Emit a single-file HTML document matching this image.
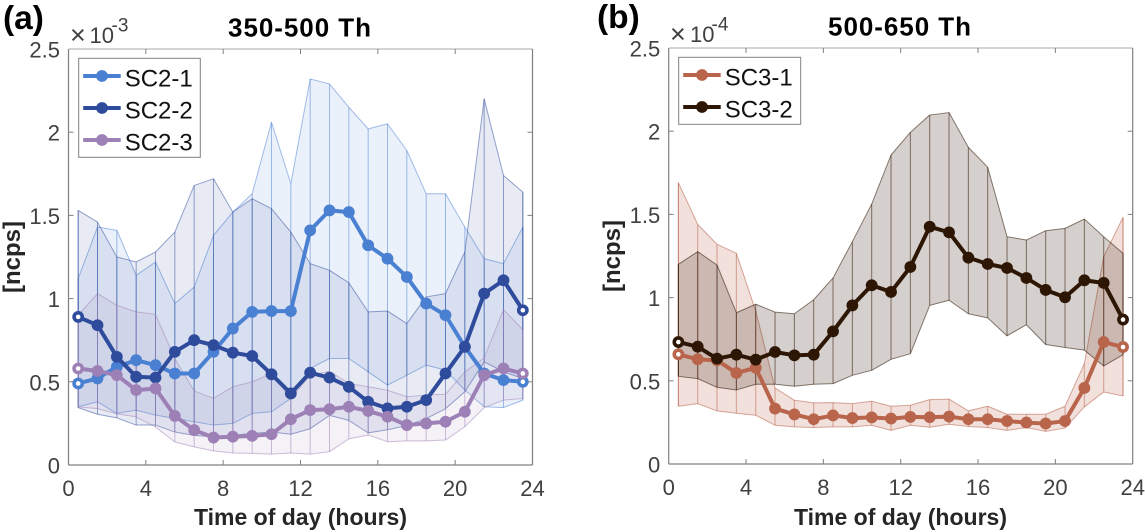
<!DOCTYPE html>
<html lang="en">
<head>
<meta charset="utf-8">
<title>Diurnal profiles</title>
<style>
html,body{margin:0;padding:0;background:#fff;width:1145px;height:532px;overflow:hidden}
svg{display:block;font-family:"Liberation Sans",Arial,sans-serif;filter:blur(0.35px)}
.tick{font-size:22px;fill:#404040}
.title{font-size:26px;font-weight:bold;fill:#000;letter-spacing:.95px}
.xt{font-size:23px;font-weight:bold;fill:#262626}
.yt{font-size:24px;font-weight:bold;fill:#262626}
.pl{font-size:33.5px;font-weight:bold;fill:#000}
.lg{font-size:24px;fill:#111}
.ex{fill:#404040}
</style>
</head>
<body>
<svg id="chart" xmlns="http://www.w3.org/2000/svg" width="1145" height="532" viewBox="0 0 1145 532">
  <text class="pl" x="3" y="29">(a)</text>
  <text class="pl" x="597" y="28">(b)</text>
  <text class="title" x="300" y="36.5" text-anchor="middle">350-500 Th</text>
  <text class="title" x="900" y="35.5" text-anchor="middle">500-650 Th</text>
  <text class="xt" x="300.5" y="525" text-anchor="middle">Time of day (hours)</text>
  <text class="xt" x="900.5" y="525" text-anchor="middle">Time of day (hours)</text>
  <text class="yt" transform="translate(20,257) rotate(-90)" text-anchor="middle">[ncps]</text>
  <text class="yt" transform="translate(620,256) rotate(-90)" text-anchor="middle">[ncps]</text>
  <g>
    <text class="ex" x="70" y="44" font-size="27">×</text>
    <text class="ex" x="89.5" y="43" font-size="22">10</text>
    <text class="ex" x="111.5" y="31.5" font-size="19">-3</text>
  </g>
  <g>
    <text class="ex" x="670" y="43" font-size="27">×</text>
    <text class="ex" x="690" y="42" font-size="22">10</text>
    <text class="ex" x="711.5" y="30.5" font-size="19">-4</text>
  </g>
  <g id="panel-a"></g>
  <g id="panel-b"></g>
</svg>
<script>
// x categories and tick labels
const hours = [0.5,1.5,2.5,3.5,4.5,5.5,6.5,7.5,8.5,9.5,10.5,11.5,12.5,13.5,14.5,15.5,16.5,17.5,18.5,19.5,20.5,21.5,22.5,23.5];
const xTicks = [0,4,8,12,16,20,24];
const yTicks = [0,0.5,1,1.5,2,2.5];

// Panel (a), units of 1e-3 ncps
const sc21Mean = [0.49,0.52,0.59,0.63,0.60,0.55,0.55,0.68,0.82,0.92,0.925,0.925,1.41,1.53,1.52,1.32,1.24,1.13,0.97,0.90,0.71,0.55,0.51,0.50];
const sc21Upper = [1.12,1.43,1.41,1.14,1.22,0.97,1.07,1.38,1.52,1.63,2.06,1.69,2.32,2.29,2.15,2.02,2.05,1.89,1.63,1.63,1.43,1.24,1.21,1.43];
const sc21Lower = [0.35,0.38,0.31,0.33,0.30,0.28,0.26,0.24,0.25,0.31,0.32,0.40,0.58,0.64,0.64,0.56,0.48,0.54,0.60,0.57,0.45,0.35,0.345,0.39];
const sc22Mean = [0.89,0.84,0.65,0.53,0.525,0.68,0.75,0.72,0.675,0.655,0.545,0.43,0.555,0.525,0.47,0.38,0.34,0.35,0.39,0.55,0.71,1.03,1.11,0.93];
const sc22Upper = [1.53,1.46,1.25,1.22,1.28,1.40,1.68,1.72,1.52,1.60,1.54,1.40,1.21,1.17,1.095,0.92,0.925,0.85,1.01,1.03,1.28,2.20,1.74,1.64];
const sc22Lower = [0.345,0.305,0.283,0.24,0.24,0.198,0.178,0.168,0.178,0.19,0.198,0.185,0.218,0.298,0.268,0.193,0.212,0.237,0.279,0.338,0.44,0.62,0.56,0.52];
const sc23Mean = [0.58,0.565,0.54,0.45,0.46,0.295,0.21,0.165,0.17,0.175,0.185,0.275,0.33,0.335,0.35,0.325,0.29,0.24,0.25,0.26,0.32,0.54,0.58,0.55];
const sc23Upper = [0.90,1.03,0.96,0.92,0.905,0.64,0.445,0.40,0.47,0.50,0.55,0.40,0.54,0.563,0.49,0.47,0.449,0.41,0.42,0.425,0.56,0.643,0.934,0.813];
const sc23Lower = [0.349,0.339,0.308,0.289,0.228,0.139,0.109,0.085,0.072,0.07,0.065,0.072,0.065,0.08,0.157,0.18,0.14,0.145,0.145,0.15,0.23,0.345,0.39,0.40];

// Panel (b), units of 1e-4 ncps
const sc31Mean = [0.659,0.629,0.623,0.547,0.578,0.333,0.298,0.269,0.292,0.276,0.28,0.273,0.283,0.281,0.285,0.269,0.269,0.258,0.249,0.243,0.258,0.457,0.733,0.703];
const sc31Upper = [1.69,1.44,1.32,1.266,0.92,0.457,0.383,0.367,0.369,0.363,0.377,0.347,0.353,0.387,0.39,0.319,0.347,0.299,0.299,0.299,0.347,0.603,1.246,1.482];
const sc31Lower = [0.347,0.363,0.319,0.305,0.293,0.233,0.223,0.219,0.223,0.223,0.233,0.202,0.233,0.221,0.239,0.225,0.219,0.202,0.219,0.196,0.216,0.343,0.433,0.409];
const sc32Mean = [0.733,0.705,0.633,0.657,0.627,0.673,0.653,0.657,0.797,0.953,1.074,1.034,1.184,1.426,1.392,1.24,1.202,1.178,1.118,1.046,1.002,1.104,1.088,0.868];
const sc32Upper = [1.20,1.276,1.196,0.909,0.96,0.913,0.903,0.987,1.118,1.336,1.562,1.857,1.993,2.097,2.112,1.903,1.783,1.366,1.346,1.402,1.416,1.472,1.366,1.266];
const sc32Lower = [0.527,0.513,0.461,0.445,0.479,0.479,0.467,0.479,0.483,0.533,0.563,0.629,0.663,0.953,0.984,0.903,0.878,0.77,0.837,0.718,0.70,0.684,0.589,0.657];

const SVGNS = 'http://www.w3.org/2000/svg';

function make(tag, attrs, parent) {
  const el = document.createElementNS(SVGNS, tag);
  for (const k in attrs) el.setAttribute(k, attrs[k]);
  parent.appendChild(el);
  return el;
}

function drawPanel(root, cfg) {
  const xScale = h => cfg.left + (h / 24) * (cfg.right - cfg.left);
  const yScale = v => cfg.bottom - (v / 2.5) * (cfg.bottom - cfg.top);

  // confidence bands
  cfg.series.forEach(s => {
    const up = hours.map((h, i) => xScale(h).toFixed(2) + ',' + yScale(s.upper[i]).toFixed(2));
    const lo = hours.map((h, i) => xScale(h).toFixed(2) + ',' + yScale(s.lower[i]).toFixed(2)).reverse();
    const band = make('polygon', {points: up.concat(lo).join(' '), fill: s.color, 'fill-opacity': cfg.fillAlpha, stroke: s.color, 'stroke-opacity': cfg.edgeAlpha, 'stroke-width': 1, 'stroke-linejoin': 'round'}, root);
    
    
    hours.forEach((h, i) => {
      const rib = make('line', {x1: xScale(h), x2: xScale(h), y1: yScale(s.lower[i]), y2: yScale(s.upper[i]), stroke: s.color, 'stroke-opacity': cfg.edgeAlpha, 'stroke-width': 1}, root);
      
      
    });
  });

  // axes box
  const topLine = make('line', {x1: cfg.left, x2: cfg.right, y1: cfg.top, y2: cfg.top, stroke: '#c6c6c6', 'stroke-width': 1.6}, root);
  
  
  const leftLine = make('line', {x1: cfg.left, x2: cfg.left, y1: cfg.top, y2: cfg.bottom, stroke: '#808080', 'stroke-width': 1.2}, root);
  
  
  const rightLine = make('line', {x1: cfg.right, x2: cfg.right, y1: cfg.top, y2: cfg.bottom, stroke: '#808080', 'stroke-width': 1.2}, root);
  
  
  const bottomLine = make('line', {x1: cfg.left, x2: cfg.right, y1: cfg.bottom, y2: cfg.bottom, stroke: '#808080', 'stroke-width': 1.2}, root);
  
  

  xTicks.forEach(t => {
    const x = xScale(t);
    if (t > 0 && t < 24) {
      const a = make('line', {x1: x, x2: x, y1: cfg.bottom, y2: cfg.bottom - 5, stroke: '#808080', 'stroke-width': 1}, root);
      
      
      const b = make('line', {x1: x, x2: x, y1: cfg.top, y2: cfg.top + 5, stroke: '#808080', 'stroke-width': 1}, root);
      
      
    }
    const lab = make('text', {x: x, y: cfg.bottom + 31, 'text-anchor': 'middle', class: 'tick'}, root);
    lab.textContent = String(t);
    
    
  });

  yTicks.forEach(t => {
    const y = yScale(t);
    if (t > 0 && t < 2.5) {
      const a = make('line', {x1: cfg.left, x2: cfg.left + 5, y1: y, y2: y, stroke: '#808080', 'stroke-width': 1}, root);
      
      
      const b = make('line', {x1: cfg.right, x2: cfg.right - 5, y1: y, y2: y, stroke: '#808080', 'stroke-width': 1}, root);
      
      
    }
    const lab = make('text', {x: cfg.left - 8.5, y: y + 8.5, 'text-anchor': 'end', class: 'tick'}, root);
    lab.textContent = String(t);
    
    
  });

  // mean lines with markers
  cfg.series.forEach(s => {
    const pts = hours.map((h, i) => xScale(h).toFixed(2) + ',' + yScale(s.mean[i]).toFixed(2)).join(' ');
    const line = make('polyline', {points: pts, fill: 'none', stroke: s.color, 'stroke-width': 4, 'stroke-linejoin': 'round'}, root);
    
    
    hours.forEach((h, i) => {
      const dot = make('circle', {cx: xScale(h), cy: yScale(s.mean[i]), r: 5.9, fill: s.color}, root);
      
      
      if (i === 0 || i === hours.length - 1) {
        const hole = make('circle', {cx: xScale(h), cy: yScale(s.mean[i]), r: 2.3, fill: '#fff'}, root);
        
        
      }
    });
  });

  // legend
  const L = cfg.legend;
  const box = make('rect', {x: L.x, y: L.y, width: L.w, height: L.h, fill: '#fff', stroke: '#808080', 'stroke-width': 1}, root);
  
  
  cfg.series.forEach((s, i) => {
    const ey = L.firstY + i * L.stepY;
    const g = make('g', {}, root);
    
    
    make('line', {x1: L.x + 4.5, x2: L.x + 42, y1: ey, y2: ey, stroke: s.color, 'stroke-width': 4}, g);
    make('circle', {cx: L.x + 23.3, cy: ey, r: 5.9, fill: s.color}, g);
    const t = make('text', {x: L.x + 46, y: ey + 10.3, class: 'lg'}, g);
    t.textContent = s.name;
  });
}

drawPanel(document.getElementById('panel-a'), {
  left: 68.5, right: 532.5, top: 49, bottom: 465, fillAlpha: 0.11, edgeAlpha: 0.5,
  legend: {x: 78.7, y: 58.3, w: 121.6, h: 99, firstY: 76, stepY: 32},
  series: [
    {name: 'SC2-1', color: '#4a80d2', mean: sc21Mean, upper: sc21Upper, lower: sc21Lower},
    {name: 'SC2-2', color: '#2f4b9c', mean: sc22Mean, upper: sc22Upper, lower: sc22Lower},
    {name: 'SC2-3', color: '#9d80b6', mean: sc23Mean, upper: sc23Upper, lower: sc23Lower}
  ]
});

drawPanel(document.getElementById('panel-b'), {
  left: 668.7, right: 1132.7, top: 48, bottom: 464, fillAlpha: 0.2, edgeAlpha: 0.55,
  legend: {x: 678.7, y: 57.3, w: 122, h: 67, firstY: 75, stepY: 32},
  series: [
    {name: 'SC3-1', color: '#b8654c', mean: sc31Mean, upper: sc31Upper, lower: sc31Lower},
    {name: 'SC3-2', color: '#2e1604', mean: sc32Mean, upper: sc32Upper, lower: sc32Lower}
  ]
});
</script>
</body>
</html>
